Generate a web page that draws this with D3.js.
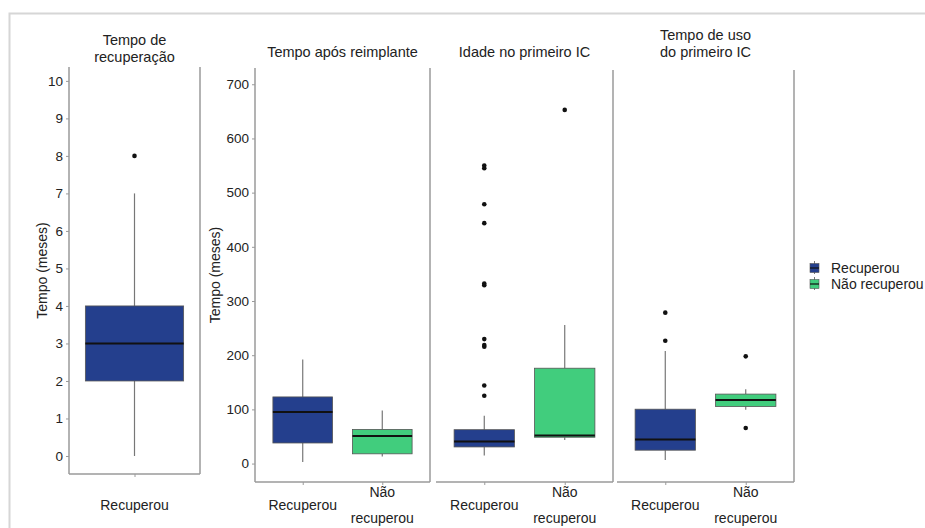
<!DOCTYPE html>
<html>
<head>
<meta charset="utf-8">
<script src="https://cdn.jsdelivr.net/npm/d3@7"></script>
<style>
  body { margin: 0; background: #fff; }
  text { font-family: "Liberation Sans", Arial, sans-serif; }
</style>
</head>
<body>
<svg id="chart"></svg>
<script>
// data (box plot summaries, months)
const groups = ["Recuperou", "Não recuperou"];
const panelTitles = [
  ["Tempo de", "recuperação"],
  ["Tempo após reimplante"],
  ["Idade no primeiro IC"],
  ["Tempo de uso", "do primeiro IC"]
];
const panelGroups = [["Recuperou"], groups, groups, groups];
// per panel, per group: [lower whisker, q1, median, q3, upper whisker]
const boxStats = [
  [[0, 2, 3, 4, 7]],
  [[3, 38, 95, 123, 192], [13, 18, 51, 63, 98]],
  [[15, 31, 41, 63, 89], [44, 49, 52, 177, 257]],
  [[7, 25, 45, 101, 209], [100, 106, 118, 129, 138]]
];
const outliers = [
  [[8]],
  [[], []],
  [[126, 145, 217, 220, 231, 331, 334, 446, 481, 548, 553], [656]],
  [[228, 280], [66, 199]]
];
const ticksMonths = [0, 1, 2, 3, 4, 5, 6, 7, 8, 9, 10];
const ticksLong = [0, 100, 200, 300, 400, 500, 600, 700];

const colors = { "Recuperou": "#243f8d", "Não recuperou": "#41cd7d" };

const width = 925, height = 528;
const svg = d3.select("#chart").attr("width", width).attr("height", height);

// light frame around the figure
svg.append("path")
  .attr("d", "M9.5,528 V13.5 H925")
  .attr("fill", "none")
  .attr("stroke", "#d6d6d6")
  .attr("stroke-width", 2);

// panel layout
const layout = [
  { x0: 69, x1: 200, top: 67, bottom: 474, domain: [-0.48, 10.37], ticks: ticksMonths, axis: true, boxFrac: 0.9, titleY: [40, 57] },
  { x0: 255, x1: 430, top: 68, bottom: 482, domain: [-34, 730], ticks: ticksLong, axis: true, boxFrac: 0.75, titleY: [52] },
  { x0: 436, x1: 613, top: 70, bottom: 482, domain: [-34, 730], ticks: ticksLong, axis: false, boxFrac: 0.75, titleY: [52] },
  { x0: 617, x1: 794, top: 70, bottom: 482, domain: [-34, 730], ticks: ticksLong, axis: false, boxFrac: 0.75, titleY: [35, 52] }
];

const lineColor = "#9a9a9a";

layout.forEach((L, i) => {
  const g = svg.append("g");
  const y = d3.scaleLinear().domain(L.domain).range([L.bottom, L.top]);
  const x = d3.scalePoint().domain(panelGroups[i]).range([L.x0, L.x1]).padding(0.6);
  const boxW = x.step() * L.boxFrac;

  // panel lines
  g.append("line").attr("x1", L.x0).attr("x2", L.x1).attr("y1", L.bottom).attr("y2", L.bottom)
    .attr("stroke", lineColor).attr("stroke-width", 1.5);
  g.append("line").attr("x1", L.x1).attr("x2", L.x1).attr("y1", L.top).attr("y2", L.bottom)
    .attr("stroke", lineColor).attr("stroke-width", 1.5);

  if (L.axis) {
    g.append("line").attr("x1", L.x0).attr("x2", L.x0).attr("y1", L.top).attr("y2", L.bottom)
      .attr("stroke", lineColor).attr("stroke-width", 1.5);
    const ax = g.append("g")
      .attr("transform", `translate(${L.x0},0)`)
      .call(d3.axisLeft(y).tickValues(L.ticks).tickSize(3).tickPadding(3));
    ax.select(".domain").remove();
    ax.selectAll(".tick line").attr("stroke", lineColor);
    ax.selectAll(".tick text").attr("fill", "#222").style("font-size", "13.5px")
      .style("font-family", "'Liberation Sans', Arial, sans-serif");

    // y-axis title
    svg.append("text")
      .attr("transform", `translate(${L.x0 - (i === 0 ? 22 : 35)},${(L.top + L.bottom) / 2}) rotate(-90)`)
      .attr("text-anchor", "middle")
      .attr("fill", "#222")
      .style("font-size", "14px")
      .text("Tempo (meses)");
  }

  // x ticks and labels
  const xa = g.append("g")
    .attr("transform", `translate(0,${L.bottom})`)
    .call(d3.axisBottom(x).tickSize(3).tickFormat(""));
  xa.select(".domain").remove();
  xa.selectAll(".tick line").attr("stroke", lineColor);

  panelGroups[i].forEach(name => {
    const lines = name === "Não recuperou" ? ["Não", "recuperou"] : [name];
    const t = g.append("text")
      .attr("x", x(name))
      .attr("text-anchor", "middle")
      .attr("fill", "#222")
      .style("font-size", "14px");
    lines.forEach((ln, k) => {
      t.append("tspan").attr("x", x(name))
        .attr("y", lines.length === 1 ? L.bottom + 28 : L.bottom + 15 + k * 26)
        .text(ln);
    });
    if (i === 0) t.selectAll("tspan").attr("y", L.bottom + 36);
  });

  // panel title
  panelTitles[i].forEach((ln, k) => {
    svg.append("text")
      .attr("x", (L.x0 + L.x1) / 2)
      .attr("y", L.titleY[k] + 5)
      .attr("text-anchor", "middle")
      .attr("fill", "#222")
      .style("font-size", "14.5px")
      .text(ln);
  });

  // boxes
  panelGroups[i].forEach((name, j) => {
    const [lo, q1, med, q3, hi] = boxStats[i][j];
    const cx = x(name);
    g.append("line").attr("x1", cx).attr("x2", cx).attr("y1", y(hi)).attr("y2", y(q3))
      .attr("stroke", "#777").attr("stroke-width", 1.2);
    g.append("line").attr("x1", cx).attr("x2", cx).attr("y1", y(q1)).attr("y2", y(lo))
      .attr("stroke", "#777").attr("stroke-width", 1.2);
    g.append("rect")
      .attr("x", cx - boxW / 2).attr("width", boxW)
      .attr("y", y(q3)).attr("height", y(q1) - y(q3))
      .attr("fill", colors[name])
      .attr("stroke", "#555").attr("stroke-width", 0.8);
    g.append("line").attr("x1", cx - boxW / 2).attr("x2", cx + boxW / 2)
      .attr("y1", y(med)).attr("y2", y(med))
      .attr("stroke", "#111").attr("stroke-width", 2);
    g.selectAll(null).data(outliers[i][j]).enter().append("circle")
      .attr("cx", cx).attr("cy", d => y(d)).attr("r", 2.3)
      .attr("fill", "#111");
  });
});

// legend
const legend = svg.append("g").attr("transform", "translate(810,262)");
groups.forEach((name, k) => {
  const lg = legend.append("g").attr("transform", `translate(0,${k * 16})`);
  lg.append("line").attr("x1", 4.5).attr("x2", 4.5).attr("y1", -1).attr("y2", 12)
    .attr("stroke", "#777").attr("stroke-width", 1);
  lg.append("rect").attr("x", 0).attr("y", 1.5).attr("width", 9).attr("height", 9)
    .attr("fill", colors[name]).attr("stroke", "#555").attr("stroke-width", 0.6);
  lg.append("line").attr("x1", 0).attr("x2", 9).attr("y1", 6).attr("y2", 6)
    .attr("stroke", "#111").attr("stroke-width", 1.2);
  lg.append("text").attr("x", 21).attr("y", 11)
    .attr("fill", "#222").style("font-size", "14px").text(name);
});
</script>
</body>
</html>
